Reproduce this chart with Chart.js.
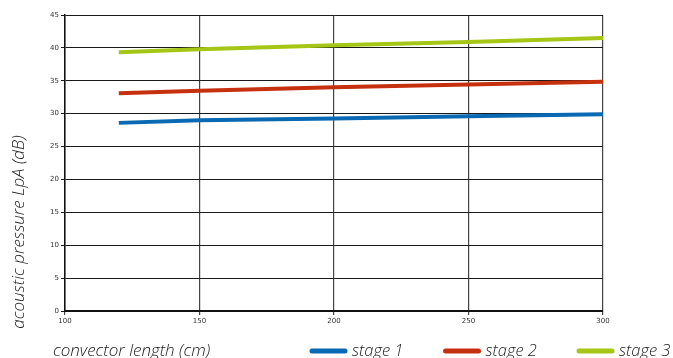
<!DOCTYPE html>
<html>
<head>
<meta charset="utf-8">
<script src="https://cdn.jsdelivr.net/npm/chart.js@4.4.1/dist/chart.umd.min.js"></script>
<style>
html,body{margin:0;padding:0;background:#fff;}
#wrap{width:673px;height:358px;position:relative;}
</style>
</head>
<body>
<div id="wrap"><canvas id="c" width="673" height="358"></canvas></div>
<script>
const xValues = [120, 150, 200, 250, 300];
const stage1 = [28.6, 29.0, 29.25, 29.6, 29.9];
const stage2 = [33.1, 33.5, 34.0, 34.45, 34.85];
const stage3 = [39.35, 39.8, 40.4, 40.9, 41.5];
const seriesNames = ['stage 1', 'stage 2', 'stage 3'];
const xTicks = [100, 150, 200, 250, 300];
const yTicks = [0, 5, 10, 15, 20, 25, 30, 35, 40, 45];
const xTitle = 'convector length (cm)';
const yTitle = 'acoustic pressure LpA (dB)';
const colors = ['#0a69b3', '#c5300e', '#a5c615'];

const toPts = arr => arr.map((v, i) => ({x: xValues[i], y: v}));
const allSeries = [stage1, stage2, stage3];

const titlesPlugin = {
  id: 'titles',
  afterDraw(chart) {
    const ctx = chart.ctx;
    ctx.save();
    ctx.fillStyle = '#222';
    ctx.font = 'italic 300 17px "Open Sans"';
    // y title
    ctx.save();
    ctx.translate(24, 232);
    ctx.rotate(-Math.PI / 2);
    ctx.textAlign = 'center';
    ctx.textBaseline = 'alphabetic';
    ctx.fillText(yTitle, 0, 0);
    ctx.restore();
    // x title
    ctx.textAlign = 'left';
    ctx.textBaseline = 'alphabetic';
    ctx.fillText(xTitle, 53, 356);
    // legend
    ctx.font = 'italic 300 16.5px "Open Sans"';
    const startX = 310, step = 133.5, cy = 351;
    chart.data.datasets.forEach((ds, i) => {
      const x0 = startX + i * step;
      ctx.strokeStyle = ds.borderColor;
      ctx.lineWidth = 5;
      ctx.lineCap = 'round';
      ctx.beginPath();
      ctx.moveTo(x0 + 2, cy);
      ctx.lineTo(x0 + 35, cy);
      ctx.stroke();
      ctx.fillStyle = '#222';
      ctx.fillText(ds.label, x0 + 42, 356);
    });
    ctx.restore();
  }
};

new Chart(document.getElementById('c'), {
  type: 'line',
  data: {
    datasets: allSeries.map((s, i) => ({
      label: seriesNames[i],
      data: toPts(s),
      borderColor: colors[i],
      backgroundColor: colors[i],
      borderWidth: 4,
      pointRadius: 0,
      tension: 0,
      fill: false
    }))
  },
  options: {
    responsive: false,
    animation: false,
    devicePixelRatio: 1,
    layout: {padding: {top: 15, left: 0, right: 0, bottom: 0}},
    plugins: {legend: {display: false}, tooltip: {enabled: false}},
    scales: {
      x: {
        type: 'linear',
        min: 100, max: 300,
        afterBuildTicks: s => { s.ticks = xTicks.map(v => ({value: v})); },
        ticks: {font: {family: 'DejaVu Sans', size: 7}, color: '#333', padding: 2, maxRotation: 0},
        grid: {color: '#444', lineWidth: 1.2, tickLength: 4, drawOnChartArea: true},
        border: {color: '#111', width: 2},
        afterFit: s => { s.height = 47; }
      },
      y: {
        min: 0, max: 45,
        afterBuildTicks: s => { s.ticks = yTicks.map(v => ({value: v})); },
        ticks: {font: {family: 'DejaVu Sans', size: 7}, color: '#333', padding: 2},
        grid: {color: '#1a1a1a', lineWidth: 1, tickLength: 4},
        border: {color: '#111', width: 1.5},
        afterFit: s => { s.width = 65; }
      },
      y2: {
        position: 'right',
        display: true,
        min: 0, max: 45,
        ticks: {display: false},
        grid: {display: false},
        border: {display: false},
        afterFit: s => { s.width = 70; }
      }
    }
  },
  plugins: [titlesPlugin]
});
</script>
</body>
</html>
